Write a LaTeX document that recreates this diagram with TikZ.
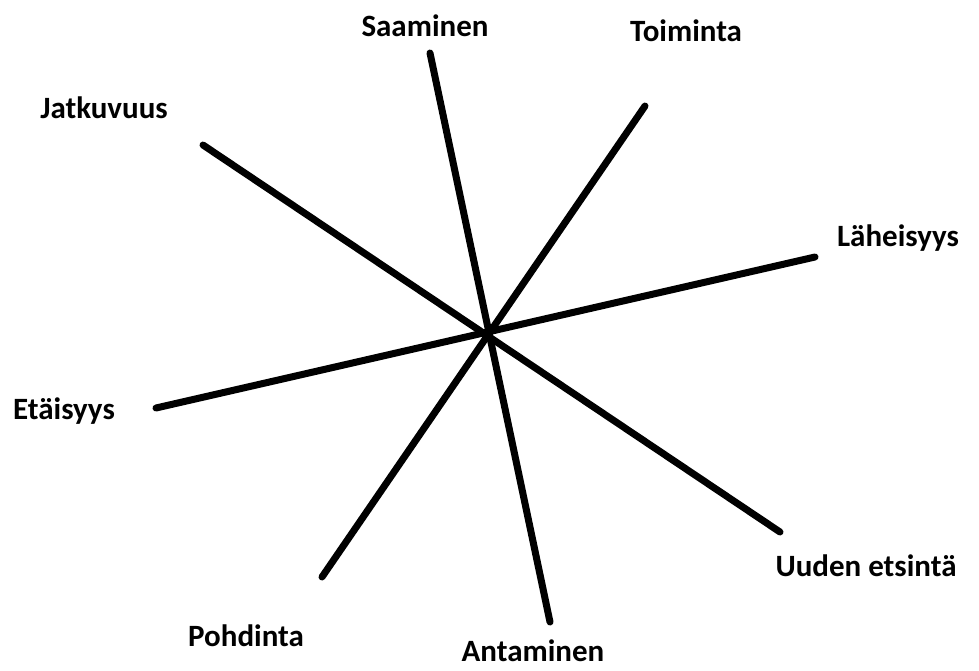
\documentclass[tikz,border=0pt]{standalone}
\usepackage{fontspec}
\setmainfont{Carlito}
\begin{document}
\begin{tikzpicture}[x=1pt,y=-1pt,
  lbl/.style={font=\fontsize{31}{34}\selectfont\bfseries, inner sep=0pt, anchor=center},
  spoke/.style={line width=7pt, line cap=round, black}]
\useasboundingbox (0,0) rectangle (979,670);
% line endpoints
\coordinate (s1) at (430,53);   \coordinate (a1) at (550,622);
\coordinate (t1) at (645,106);  \coordinate (p1) at (322,577);
\coordinate (l1) at (815,257);  \coordinate (e1) at (156,408);
\coordinate (j1) at (203,145);  \coordinate (u1) at (780,532);
\draw[spoke] (s1) -- (a1);
\draw[spoke] (t1) -- (p1);
\draw[spoke] (l1) -- (e1);
\draw[spoke] (j1) -- (u1);
% labels
\node[lbl] (saa) at (425,26) {Saaminen};
\node[lbl] (toi) at (686,31) {Toiminta};
\node[lbl] (jat) at (104,108) {Jatkuvuus};
\node[lbl] (lah) at (898,238) {Läheisyys};
\node[lbl] (eta) at (64,411) {Etäisyys};
\node[lbl] (uud) at (866,566) {Uuden etsintä};
\node[lbl] (poh) at (246,636) {Pohdinta};
\node[lbl] (ant) at (533,651) {Antaminen};
\end{tikzpicture}
\end{document}
